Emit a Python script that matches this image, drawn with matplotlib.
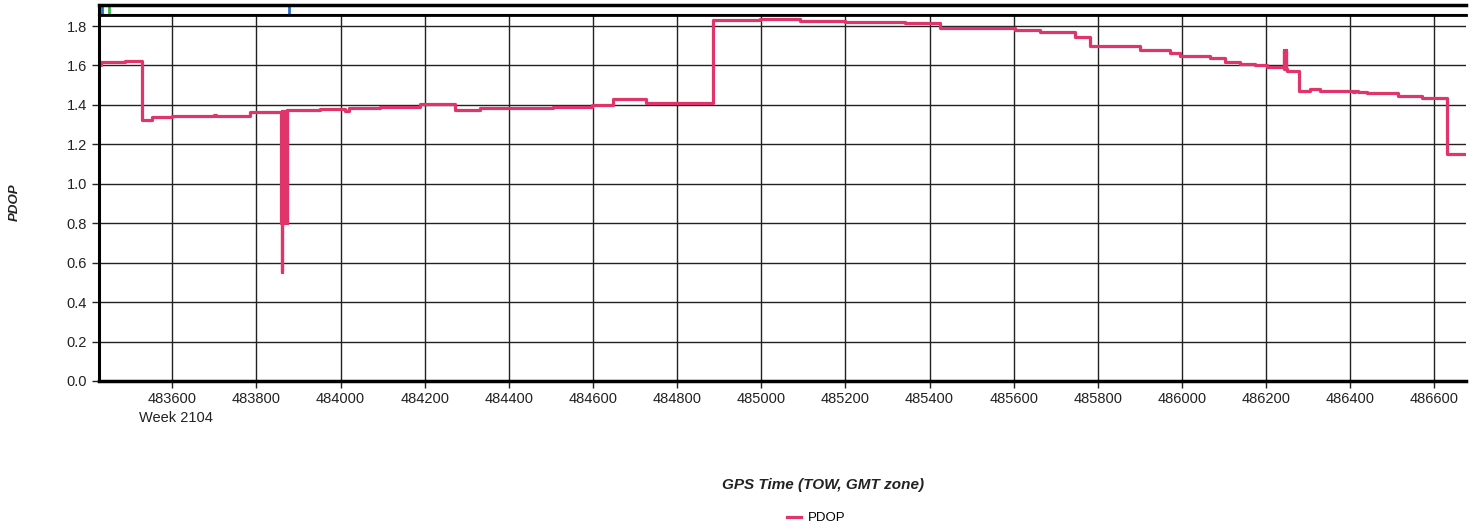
import numpy as np
import matplotlib.pyplot as plt
from matplotlib.ticker import FormatStrFormatter

plt.rcParams['font.family'] = ['Liberation Sans', 'DejaVu Sans']

# PDOP step trace (GPS time of week, seconds)
tow = [483426, 483430, 483488, 483528, 483552, 483600, 483666, 483700, 483705,
       483785, 483858, 483860, 483861, 483862, 483863, 483865, 483867, 483869,
       483870, 483871, 483872, 483874, 483951, 484011, 484020, 484035, 484094,
       484189, 484272, 484332, 484386, 484505, 484598, 484648, 484726, 484885,
       484997, 485092, 485199, 485342, 485425, 485603, 485663, 485746, 485782,
       485900, 485972, 485996, 486067, 486103, 486138, 486174, 486202, 486242,
       486243, 486244, 486245, 486246, 486247, 486249, 486278, 486304, 486328,
       486407, 486412, 486418, 486440, 486514, 486571, 486630, 486675]
pdop = [1.60, 1.617, 1.622, 1.323, 1.339, 1.342, 1.345, 1.35, 1.345,
        1.364, 0.80, 1.37, 0.553, 1.37, 0.80, 1.37, 0.80, 1.37,
        0.80, 1.37, 0.80, 1.372, 1.38, 1.37, 1.385, 1.385, 1.39,
        1.405, 1.372, 1.385, 1.385, 1.39, 1.40, 1.43, 1.41, 1.83,
        1.835, 1.825, 1.82, 1.815, 1.79, 1.78, 1.77, 1.745, 1.70,
        1.68, 1.665, 1.65, 1.636, 1.618, 1.61, 1.60, 1.59, 1.68,
        1.58, 1.68, 1.58, 1.68, 1.58, 1.57, 1.47, 1.48, 1.472,
        1.465, 1.472, 1.465, 1.459, 1.447, 1.437, 1.152, 1.152]

# event markers in the top strip
event_tow = [483432, 483450, 483878]
event_col = ['#1f6fd0', '#2fbf4f', '#1f6fd0']

line_col = '#E0356A'
x_min, x_max = 483426, 486675
y_max = 1.856

fig = plt.figure(figsize=(14.78, 5.31), dpi=100)
ax = fig.add_axes([99 / 1478, 1 - 381 / 531, (1466 - 99) / 1478, (381 - 15) / 531])

ax.plot(tow, pdop, drawstyle='steps-post', color=line_col, lw=2.3, label='PDOP')

ax.set_xlim(x_min, x_max)
ax.set_ylim(0, y_max)
ax.set_yticks(np.arange(0, 1.81, 0.2))
ax.yaxis.set_major_formatter(FormatStrFormatter('%.1f'))
xt = np.arange(483600, 486601, 200)
ax.set_xticks(xt)
ax.set_xticklabels([str(v) for v in xt])
ax.grid(True, color='#222222', lw=1.0)
ax.set_axisbelow(True)
ax.tick_params(axis='both', labelsize=10.5, colors='#222222', length=5, width=1, direction='out')
ax.tick_params(axis='x', pad=3)
ax.spines['right'].set_visible(False)
ax.spines['left'].set_linewidth(2.2)
ax.spines['bottom'].set_linewidth(2.5)
ax.spines['top'].set_linewidth(2)

fig.text(176 / 1478, 1 - 418 / 531, 'Week 2104', ha='center', va='center',
         fontsize=10.5, color='#222222')

# top strip
ax2 = fig.add_axes([99 / 1478, 1 - 15 / 531, (1466 - 99) / 1478, 10 / 531])
ax2.set_xlim(x_min, x_max)
ax2.set_ylim(0, 1)
for t, c in zip(event_tow, event_col):
    ax2.axvline(t, color=c, lw=2)
ax2.set_xticks([])
ax2.set_yticks([])
ax2.spines['right'].set_visible(False)
ax2.spines['top'].set_linewidth(2.5)
ax2.spines['left'].set_linewidth(2.2)
ax2.spines['bottom'].set_linewidth(1.5)

fig.text(15 / 1478, 1 - 202 / 531, 'PDOP', rotation=90, ha='center', va='center',
         fontsize=9.5, fontweight='bold', fontstyle='italic', color='#222222')
fig.text(823 / 1478, 1 - 485 / 531, 'GPS Time (TOW, GMT zone)', ha='center', va='center',
         fontsize=11, fontweight='bold', fontstyle='italic', color='#222222')
fig.legend(loc='center', bbox_to_anchor=(816 / 1478, 1 - 518 / 531), frameon=False,
           fontsize=9.5, handlelength=1.1, handletextpad=0.5)

fig.savefig('out.png', dpi=100)
